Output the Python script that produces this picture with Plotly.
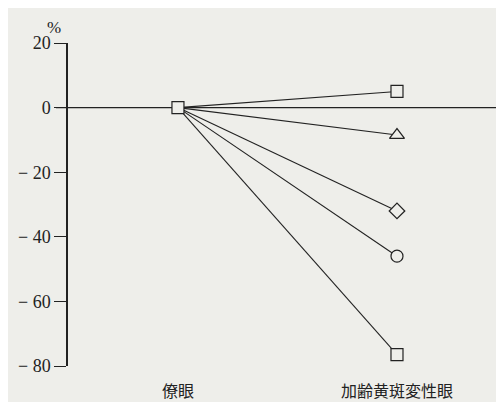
import plotly.graph_objects as go

groups = ["僚眼", "加齢黄斑変性眼"]
fellow_value = 0
amd_values = [5, -8.5, -32, -46, -76.5]
symbols = ["square", "triangle-up", "diamond", "circle", "square"]
y_ticks = [20, 0, -20, -40, -60, -80]
y_labels = ["20", "0", "\u2212 20", "\u2212 40", "\u2212 60", "\u2212 80"]

bg = "#eeeeea"
num_font = "Liberation Serif"
jp_font = "Noto Sans CJK JP"

fig = go.Figure()

# lines first, so the markers sit on top
for v in amd_values:
    fig.add_trace(go.Scatter(x=[0, 1], y=[fellow_value, v], mode="lines",
                             line=dict(color="#222", width=1.1),
                             showlegend=False, hoverinfo="skip"))

fig.add_trace(go.Scatter(x=[0], y=[fellow_value], mode="markers",
                         marker=dict(symbol="square", size=12, color=bg,
                                     line=dict(color="#222", width=1.2)),
                         showlegend=False, cliponaxis=False))

for v, s in zip(amd_values, symbols):
    fig.add_trace(go.Scatter(x=[1], y=[v], mode="markers",
                             marker=dict(symbol=s, size=12 if s != "triangle-up" else 13,
                                         color=bg, line=dict(color="#222", width=1.2)),
                             showlegend=False, cliponaxis=False))

# zero line running across the plot
fig.add_shape(type="line", xref="paper", yref="y", x0=-12 / 428, x1=1,
              y0=0, y1=0, line=dict(color="#222", width=1.3), layer="below")

fig.add_annotation(text="%", xref="paper", yref="paper", x=-23 / 428, y=1 + 27 / 326,
                   showarrow=False, font=dict(family=num_font, size=17, color="#222"))

# page body keeps an 8px margin, so the figure is 488x394 to fit the 504x410 window
fig.update_layout(
    width=488, height=394,
    margin=dict(l=60, r=0, t=35, b=33),
    paper_bgcolor=bg, plot_bgcolor=bg,
    xaxis=dict(range=[-0.502, 1.452], tickvals=[0, 1], ticktext=groups,
               showline=False, showgrid=False, zeroline=False, ticks="",
               ticklabelstandoff=14,
               tickfont=dict(family=jp_font, size=16, color="#222")),
    yaxis=dict(range=[-80, 20], tickvals=y_ticks, ticktext=y_labels,
               showline=True, linecolor="#222", linewidth=1.5,
               ticks="outside", ticklen=12, tickwidth=1.3, tickcolor="#222",
               showgrid=False, zeroline=False,
               tickfont=dict(family=num_font, size=18, color="#222")),
)

fig.write_html("out.html")
